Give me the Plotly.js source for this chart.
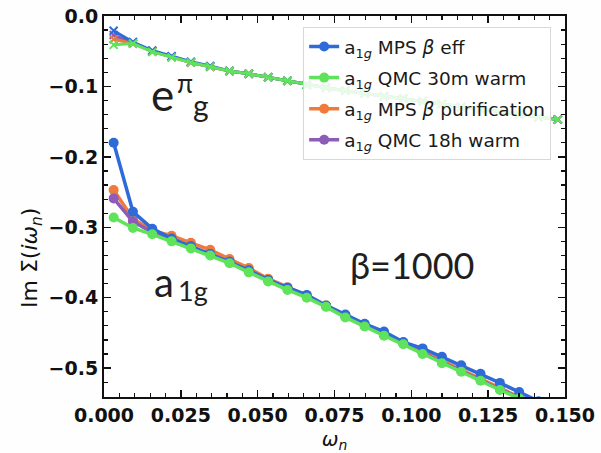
<!DOCTYPE html>
<html>
<head>
<meta charset="utf-8">
<script src="https://cdn.plot.ly/plotly-3.0.1.min.js"></script>
<style>html,body{margin:0;padding:0;background:#fff;}#chart{width:601px;height:453px;}</style>
</head>
<body>
<div id="chart"></div>
<script>
// Matsubara frequencies (beta = 1000)
var omega = [0.00314, 0.00942, 0.01571, 0.02199, 0.02827, 0.03456, 0.04084, 0.04712, 0.05341, 0.05969,
             0.06597, 0.07226, 0.07854, 0.08482, 0.09111, 0.09739, 0.10367, 0.10996, 0.11624, 0.12252,
             0.12881, 0.13509, 0.14137, 0.14765];

// a1g series
var a1gMpsEff   = [-0.180, -0.278, -0.302, -0.316, -0.327, -0.338, -0.349, -0.361, -0.375, -0.386,
                   -0.396, -0.411, -0.424, -0.437, -0.448, -0.463, -0.472, -0.484, -0.496, -0.508,
                   -0.521, -0.534, -0.547];
var a1gQmc30m   = [-0.286, -0.301, -0.310, -0.320, -0.330, -0.340, -0.351, -0.364, -0.377, -0.389,
                   -0.400, -0.413, -0.428, -0.441, -0.454, -0.466, -0.480, -0.493, -0.505, -0.518,
                   -0.531, -0.543, -0.556];
var a1gMpsPur   = [-0.247, -0.288, -0.305, -0.312, -0.322, -0.332, -0.345, -0.358, -0.373, -0.385,
                   -0.397, -0.411, -0.425, -0.438, -0.451, -0.464, -0.477, -0.490, -0.502, -0.515,
                   -0.528, -0.541, -0.554];
var a1gQmc18h   = [-0.259, -0.292, -0.307, -0.317, -0.327, -0.338, -0.349, -0.362, -0.375, -0.387,
                   -0.399, -0.412, -0.427, -0.440, -0.453, -0.465, -0.479, -0.492, -0.504, -0.517,
                   -0.530, -0.542, -0.555];

// e_pi_g series
var egMpsEff    = [-0.021, -0.037, -0.049, -0.057, -0.065, -0.071, -0.078, -0.082, -0.087, -0.092,
                   -0.098, -0.102, -0.106, -0.110, -0.114, -0.117, -0.121, -0.125, -0.129, -0.132,
                   -0.136, -0.140, -0.144, -0.147];
var egQmc30m    = [-0.041, -0.039, -0.051, -0.059, -0.066, -0.072, -0.078, -0.082, -0.087, -0.092,
                   -0.098, -0.102, -0.106, -0.110, -0.114, -0.117, -0.121, -0.125, -0.129, -0.132,
                   -0.136, -0.140, -0.144, -0.147];
var egMpsPur    = [-0.033, -0.039, -0.050, -0.058, -0.066, -0.072, -0.078, -0.082, -0.087, -0.092,
                   -0.098, -0.102, -0.106, -0.110, -0.114, -0.117, -0.121, -0.125, -0.129, -0.132,
                   -0.136, -0.140, -0.144, -0.147];
var egQmc18h    = [-0.027, -0.039, -0.050, -0.058, -0.066, -0.072, -0.078, -0.082, -0.087, -0.092,
                   -0.098, -0.102, -0.106, -0.110, -0.114, -0.117, -0.121, -0.125, -0.129, -0.132,
                   -0.136, -0.140, -0.144, -0.147];

var seriesNames = [
  'a<sub>1<i>g</i></sub> MPS <i>β</i> eff',
  'a<sub>1<i>g</i></sub> QMC 30m warm',
  'a<sub>1<i>g</i></sub> MPS <i>β</i> purification',
  'a<sub>1<i>g</i></sub> QMC 18h warm'
];
var xTicks = [0.000, 0.025, 0.050, 0.075, 0.100, 0.125, 0.150];
var yTicks = [0.0, -0.1, -0.2, -0.3, -0.4, -0.5];

var C = {blue:'#2f6bd8', green:'#5fe35a', orange:'#f07a3c', purple:'#8c5cb6'};

function a1g(y, name, color, rank){
  return {x: omega.slice(0, y.length), y: y, name: name, mode:'lines+markers', type:'scatter',
    line:{color:color, width:3.5}, marker:{color:color, size:10, symbol:'circle'},
    legendrank: rank, legendgroup: 'g' + rank};
}
function eg(y, color){
  return {x: omega.slice(0, y.length), y: y, mode:'lines+markers', type:'scatter', showlegend:false,
    line:{color:color, width:3}, marker:{color:color, size:8, symbol:'x-thin', line:{color:color, width:2}}};
}

var data = [
  eg(egQmc18h, C.purple), eg(egMpsPur, C.orange), eg(egMpsEff, C.blue), eg(egQmc30m, C.green),
  a1g(a1gMpsPur, seriesNames[2], C.orange, 3),
  a1g(a1gQmc18h, seriesNames[3], C.purple, 4),
  a1g(a1gMpsEff, seriesNames[0], C.blue, 1),
  a1g(a1gQmc30m, seriesNames[1], C.green, 2)
];

function px(xp){ return (xp - 104) / 461; }
function py(yp){ return (397 - yp) / 381; }

var tickFont = {family:'DejaVu Sans', size:19, color:'#111', weight:'bold'};
function lab(text, xp, yp, size){
  return {xref:'paper', yref:'paper', x:px(xp), y:py(yp), xanchor:'center', yanchor:'middle',
    text:text, showarrow:false, font:{family:'Lato', size:size, color:'#1f1f1f'}};
}

var layout = {
  width:601, height:453,
  margin:{l:104, r:36, t:16, b:56},
  paper_bgcolor:'#fdfefd', plot_bgcolor:'#ffffff',
  showlegend:true,
  legend:{x:0.432, y:0.971, xanchor:'left', yanchor:'top',
    bgcolor:'rgba(255,255,255,0.85)', bordercolor:'#d8d8d8', borderwidth:1,
    font:{family:'DejaVu Sans', size:18.5, color:'#1a1a1a'}, tracegroupgap:4, itemwidth:30},
  xaxis:{range:[0, 0.15], tickvals:xTicks, tickformat:'.3f', ticks:'inside', ticklen:7, tickwidth:1.5,
    tickcolor:'#111', showline:true, linecolor:'#111', linewidth:2, mirror:'allticks', showgrid:false,
    zeroline:false, tickfont:tickFont,
    minor:{dtick:0.005, tick0:0, ticks:'inside', ticklen:4, tickwidth:1.2, tickcolor:'#111', showgrid:false},
    title:{text:'<i>ω<sub>n</sub></i>', font:{family:'DejaVu Sans', size:20, color:'#111'}, standoff:13}},
  yaxis:{range:[-0.541, 0], tickvals:yTicks, tickformat:'.1f', ticks:'inside', ticklen:7, tickwidth:1.5,
    tickcolor:'#111', showline:true, linecolor:'#111', linewidth:2, mirror:'allticks', showgrid:false,
    zeroline:false, tickfont:tickFont,
    minor:{dtick:0.02, tick0:0, ticks:'inside', ticklen:4, tickwidth:1.2, tickcolor:'#111', showgrid:false}},
  annotations:[
    lab('e', 162, 94, 44),
    lab('π', 185, 83, 26),
    lab('g', 201, 105, 30),
    lab('a', 164, 282, 40),
    lab('1g', 193, 290, 27),
    lab('β=1000', 412, 265, 36),
    {xref:'paper', yref:'paper', x:px(31), y:py(258), xanchor:'center', yanchor:'middle', textangle:-90,
     text:'Im Σ(<i>iω<sub>n</sub></i>)', showarrow:false,
     font:{family:'DejaVu Sans', size:22, color:'#111'}}
  ]
};
Plotly.newPlot('chart', data, layout, {displayModeBar:false, staticPlot:true});
</script>
</body>
</html>
